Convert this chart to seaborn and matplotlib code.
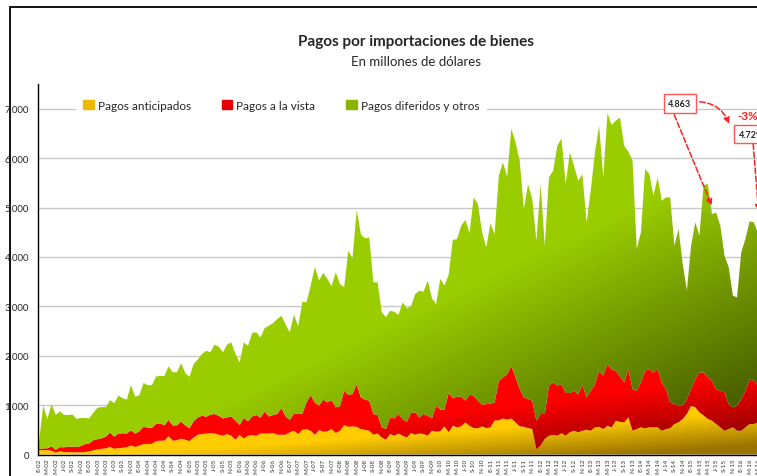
import numpy as np
import seaborn as sns
import matplotlib.pyplot as plt
from matplotlib.patches import Patch, Rectangle
from matplotlib.colors import LinearSegmentedColormap

# monthly values, Jan-2002 .. Jun-2016 (millions of USD), one row per year
total = [
    250, 990, 720, 1015, 800, 875, 800, 800, 810, 720, 740, 740,
    730, 845, 947, 960, 960, 1100, 1040, 1190, 1140, 1110, 1405, 1170,
    1200, 1447, 1405, 1405, 1580, 1590, 1590, 1785, 1665, 1665, 1845, 1650,
    1570, 1835, 1925, 2035, 2100, 2070, 2225, 2180, 2070, 2225, 2270, 2035,
    1865, 2270, 2200, 2460, 2475, 2370, 2560, 2610, 2660, 2740, 2810, 2630,
    2475, 2830, 2595, 3090, 3080, 3420, 3800, 3520, 3675, 3555, 3405, 3690,
    3450, 3385, 4125, 3970, 4950, 4460, 4375, 4395, 3485, 3485, 2880, 2780,
    2910, 2890, 2825, 3080, 2960, 3000, 3250, 3315, 3295, 3520, 3160, 3045,
    3555, 3420, 3635, 4345, 4360, 4630, 4750, 4485, 5205, 5070, 4500, 4195,
    4675, 4460, 5645, 5915, 5625, 6600, 6320, 5945, 4970, 5475, 5170, 4330,
    5475, 4227, 5610, 5745, 6250, 6400, 5475, 6115, 5845, 5540, 5680, 4700,
    5340, 6115, 6655, 5610, 6910, 6670, 6760, 6820, 6250, 6130, 5945, 4160,
    4500, 5780, 5680, 5240, 5610, 5140, 5205, 5205, 4227, 4565, 3855, 3320,
    4227, 4700, 4430, 5455, 5475, 4863, 4900, 4630, 4025, 3790, 3215, 3180,
    4090, 4365, 4720, 4700, 4480, 4729,
]

# anticipados + a la vista (top of the red band)
anticipados_y_vista = [
    110, 125, 125, 165, 95, 150, 145, 160, 160, 150, 170, 210,
    225, 290, 310, 330, 360, 445, 360, 425, 430, 425, 490, 425,
    470, 560, 545, 540, 620, 630, 590, 700, 590, 590, 665, 590,
    530, 675, 750, 785, 765, 805, 820, 785, 730, 750, 770, 685,
    597, 740, 670, 770, 800, 745, 870, 770, 800, 820, 940, 770,
    700, 830, 830, 820, 1055, 1200, 1050, 990, 1110, 1055, 1100, 955,
    975, 1290, 1210, 1225, 1425, 1155, 1110, 1090, 820, 800, 550, 515,
    750, 730, 820, 715, 660, 840, 855, 750, 820, 785, 730, 990,
    910, 910, 1245, 1140, 1170, 1170, 1090, 1210, 1190, 1090, 1010, 1020,
    1030, 1055, 1490, 1560, 1625, 1795, 1560, 1325, 1155, 1120, 1090, 685,
    820, 820, 1395, 1460, 1395, 1425, 1245, 1245, 1290, 1220, 1410, 1155,
    1290, 1425, 1695, 1595, 1830, 1715, 1695, 1580, 1460, 1730, 1325, 1290,
    1460, 1695, 1730, 1650, 1730, 1460, 1325, 1055, 1020, 985, 985, 1120,
    1325, 1525, 1660, 1660, 1560, 1490, 1325, 1290, 1260, 1020, 955, 985,
    1120, 1290, 1525, 1490, 1395, 1450,
]

anticipados = [
    90, 85, 90, 75, 40, 65, 50, 50, 45, 45, 45, 50,
    65, 85, 105, 115, 125, 155, 115, 130, 135, 150, 180, 155,
    180, 210, 215, 215, 270, 280, 280, 370, 280, 290, 320, 300,
    270, 345, 400, 415, 425, 435, 425, 400, 380, 415, 380, 300,
    395, 325, 380, 395, 380, 425, 425, 425, 435, 400, 400, 400,
    450, 480, 415, 500, 515, 480, 400, 495, 460, 470, 515, 435,
    480, 595, 560, 570, 560, 515, 500, 480, 400, 425, 345, 300,
    415, 380, 425, 380, 345, 435, 400, 425, 415, 380, 480, 460,
    470, 570, 450, 580, 550, 570, 650, 580, 535, 530, 570, 535,
    550, 690, 690, 730, 705, 730, 650, 570, 560, 535, 515, 100,
    180, 315, 380, 395, 380, 430, 380, 450, 480, 450, 480, 500,
    480, 550, 560, 515, 580, 550, 685, 660, 650, 750, 480, 515,
    550, 530, 550, 550, 550, 480, 515, 530, 615, 650, 720, 820,
    985, 955, 855, 790, 720, 685, 615, 550, 480, 515, 550, 480,
    480, 550, 615, 615, 650, 640,
]

series_labels = ['Pagos anticipados', 'Pagos a la vista', 'Pagos diferidos y otros']
month_initials = ['E', 'F', 'M', 'A', 'M', 'J', 'J', 'A', 'S', 'O', 'N', 'D']

anticipados = np.array(anticipados, dtype=float)
vista = np.array(anticipados_y_vista, dtype=float) - anticipados
diferidos = np.array(total, dtype=float) - np.array(anticipados_y_vista, dtype=float)
x = np.arange(len(total))

sns.set_style('white')
plt.rcParams['font.family'] = ['Lato', 'DejaVu Sans']

W, H = 757, 477
fig = plt.figure(figsize=(W / 100, H / 100), dpi=100)
xmin, xmax = -0.36, 178
ax = fig.add_axes([37.5 / W, 1 - 455.5 / H, (xmax - xmin) * 4.18 / W, (455.5 - 85) / H])

light = ['#FFCC00', '#FF0000', '#9ACD00']
dark = ['#9A7400', '#8E0000', '#4A6200']
polys = ax.stackplot(x, anticipados, vista, diferidos, colors=light, linewidth=0, zorder=2)

# Excel-like diagonal gradients (bright top-left, dark bottom-right)
tops = [anticipados.max(), np.max(anticipados_y_vista), np.max(total)]
gx, gy = np.meshgrid(np.linspace(0, 1, 400), np.linspace(0, 1, 300))
for poly, c1, c2, ytop in zip(polys, light, dark, tops):
    cmap = LinearSegmentedColormap.from_list('g', [c1, c2])
    s = gx + (1 - gy)
    t = np.clip((s - 1.1) / 0.7, 0, 1)
    im = ax.imshow(t, cmap=cmap, vmin=0, vmax=1, origin='lower', aspect='auto',
                   extent=[0, 172, 0, ytop], zorder=2, interpolation='bilinear')
    im.set_clip_path(poly.get_paths()[0], transform=ax.transData)
    poly.set_facecolor('none')

ax.set_xlim(xmin, xmax)
ax.set_ylim(0, 7500)

ax.set_axisbelow(True)
ax.yaxis.grid(True, color='#C8C8C8', lw=1)
ax.xaxis.grid(False)
for side in ['top', 'right']:
    ax.spines[side].set_visible(False)
for side in ['left', 'bottom']:
    ax.spines[side].set_color('black')
    ax.spines[side].set_linewidth(1)
    ax.spines[side].set_zorder(5)

yt = list(range(0, 8000, 1000))
ax.set_yticks(yt)
ax.set_yticklabels([f'{v:,}'.replace(',', '.') for v in yt], fontsize=7)
ax.tick_params(axis='y', length=3, width=0.8, color='black', pad=3)

ax.set_xticks(x[::2])
ax.set_xticks(x, minor=True)
ax.set_xticklabels([f'{month_initials[m % 12]}-{2 + m // 12:02d}' for m in x[::2]],
                   rotation=90, fontsize=4.5, color='#333333')
ax.tick_params(axis='x', which='both', direction='inout', length=3, width=0.8,
               color='#222222', pad=1)

handles = [Patch(color=c) for c in ['#F0B800', '#E80000', '#88B400']]
leg = ax.legend(handles, series_labels, ncol=3, loc='center', bbox_to_anchor=(0.327, 0.943),
                frameon=True, facecolor='white', edgecolor='none', framealpha=1,
                fontsize=8.5, handlelength=0.9, handleheight=0.9, handletextpad=0.35,
                columnspacing=2.6, borderpad=0.6)
leg.get_frame().set_boxstyle('square', pad=0.0)

# annotation: same month, year over year
box = dict(boxstyle='square,pad=0.5', fc='white', ec='#FF5555', lw=1)
ax.text(153.3, 7105, '4.863', ha='center', va='center', fontsize=6.5, weight='bold', bbox=box, zorder=6)
ax.text(170.1, 6487, '4.729', ha='center', va='center', fontsize=6.5, weight='bold', bbox=box, zorder=6)
ax.text(169.6, 6870, '-3%', ha='center', va='center', fontsize=8.5, weight='bold', color='#FF2222', zorder=6)
arrow = dict(arrowstyle='-|>', color='#FF2222', ls='--', lw=1.1, mutation_scale=9)
ax.annotate('', xy=(161.2, 4990), xytext=(151.7, 6930), arrowprops=arrow, zorder=6)
ax.annotate('', xy=(172.2, 4870), xytext=(170.8, 6345), arrowprops=arrow, zorder=6)
ax.annotate('', xy=(165.3, 6640), xytext=(157.4, 7145),
            arrowprops=dict(arrow, connectionstyle='arc3,rad=-0.35'), zorder=6)

fig.text(416 / W, 1 - 42 / H, 'Pagos por importaciones de bienes', ha='center', va='center',
         fontsize=11, weight='bold')
fig.text(416 / W, 1 - 62 / H, 'En millones de dólares', ha='center', va='center', fontsize=9.5)

fig.add_artist(Rectangle((10 / W, -0.1), 2, 1.1 - 8 / H, transform=fig.transFigure,
                         fill=False, edgecolor='black', lw=1.3))

fig.savefig('out.png', dpi=100)
